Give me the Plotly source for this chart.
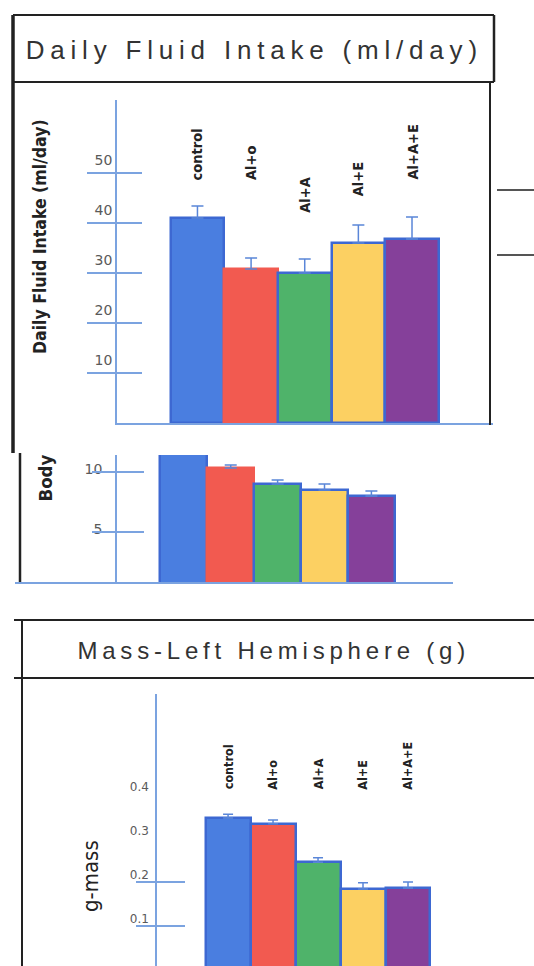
import plotly.graph_objects as go

# ---------------- data ----------------
categories = ["control", "Al+o", "Al+A", "Al+E", "Al+A+E"]

fluid_intake = [41.0, 30.8, 30.0, 36.0, 36.8]      # ml/day
fluid_err = [2.4, 2.2, 2.8, 3.6, 4.4]

body_weight = [12.4, 10.33, 9.0, 8.5, 8.0]        # partially visible panel
body_err = [0.3, 0.25, 0.33, 0.5, 0.42]

mass_left = [0.345, 0.332, 0.245, 0.184, 0.186]   # g
mass_err = [0.009, 0.009, 0.010, 0.014, 0.014]

fluid_ticks = [10, 20, 30, 40, 50]
body_ticks = [5, 10]
mass_ticks = [0.1, 0.2, 0.3, 0.4]
mass_tick_text = ["0.1", "0.2", "0.3", "0.4"]
mass_tick_lines = [0.1, 0.2]

# ---------------- styles ----------------
W, H = 534, 966
bar_colors = ["#4a7ee0", "#f25a50", "#4fb36a", "#fcd062", "#85409a"]
outline = "#3d68d2"
outline_no_red = [outline, "#f25a50", outline, outline, outline]
axis_blue = "#7ba3e0"
err_blue = "#5a86d8"
tick_grey = "#5a5a5a"
ink = "#222222"
NARROW = "Liberation Sans Narrow, DejaVu Sans Condensed, Arial Narrow, sans-serif"
SANS = "Liberation Sans, Arial, Helvetica, sans-serif"
WIDE = "DejaVu Sans, Verdana, sans-serif"


def px(x):
    return x / W


def py(y):
    return 1 - y / H


fig = go.Figure()


def add_bars(vals, errs, xa, ya, ew, line_colors):
    fig.add_trace(go.Bar(
        x=categories, y=vals, xaxis=xa, yaxis=ya, width=1,
        marker=dict(color=bar_colors, line=dict(color=line_colors, width=2.5)),
        error_y=dict(type="data", array=errs, arrayminus=[0] * len(errs),
                     symmetric=False, color=err_blue, thickness=1.5, width=ew),
        showlegend=False, hoverinfo="skip",
    ))


def add_anchor_trace(xa, ya, yval):
    # invisible point so that the overlaid tick axis is rendered
    fig.add_trace(go.Scatter(x=[categories[0]], y=[yval], xaxis=xa, yaxis=ya,
                             mode="markers", marker=dict(opacity=0, size=1),
                             showlegend=False, hoverinfo="skip"))


add_bars(fluid_intake, fluid_err, "x", "y", 6, outline_no_red)
add_bars(body_weight, body_err, "x2", "y2", 6, outline_no_red)
add_bars(mass_left, mass_err, "x3", "y3", 5, outline)

r1 = [0, 64.6]
r2 = [0.83, 11.42]
r3 = [0.009, 0.627]

for ya, xa, r in [("y4", "x", r1), ("y5", "x", r1), ("y6", "x2", r2),
                  ("y7", "x2", r2), ("y8", "x3", r3), ("y9", "x3", r3)]:
    add_anchor_trace(xa, ya, r[0])

common_x = dict(type="category", showgrid=False, zeroline=False,
                showticklabels=False, ticks="", fixedrange=True)
common_y = dict(showgrid=False, zeroline=False, fixedrange=True)


def overlay(base, vals, rng, side_ticks, length, anchor=None, position=None):
    d = dict(common_y, overlaying=base, range=rng, tickmode="array",
             tickvals=vals, ticks=side_ticks, ticklen=length,
             tickcolor=axis_blue, tickwidth=1.5, showticklabels=False,
             showline=False, side="left")
    if anchor == "free":
        d.update(anchor="free", position=position)
    else:
        d.update(anchor=anchor)
    return d


fig.update_layout(
    width=W, height=H, margin=dict(l=0, r=0, t=0, b=0),
    paper_bgcolor="white", plot_bgcolor="rgba(0,0,0,0)",
    bargap=0,
    # ---- panel 1 ----
    xaxis=dict(common_x, domain=[px(117), px(493)], anchor="y",
               range=[-1.5, 5.51], showline=True, linecolor=axis_blue, linewidth=1.5),
    yaxis=dict(common_y, domain=[py(423), py(100)], anchor="x", range=r1,
               tickmode="array", tickvals=fluid_ticks, ticks="",
               showline=True, linecolor=axis_blue, linewidth=1.5,
               ticklabelshift=-13, ticklabelstandoff=0,
               tickfont=dict(family=WIDE, size=14, color=tick_grey)),
    yaxis4=overlay("y", fluid_ticks, r1, "outside", 29, anchor="x"),
    yaxis5=overlay("y", fluid_ticks, r1, "inside", 25, anchor="x"),
    # ---- panel 2 ----
    xaxis2=dict(common_x, domain=[px(15), px(453)], anchor="y2",
                range=[-3.60, 5.74], showline=True, linecolor=axis_blue, linewidth=1.5),
    yaxis2=dict(common_y, domain=[py(582), py(455)], anchor="free", position=px(116),
                range=r2, tickmode="array", tickvals=body_ticks, ticks="",
                showline=True, linecolor=axis_blue, linewidth=1.5,
                ticklabelshift=-3, ticklabelstandoff=10,
                tickfont=dict(family=WIDE, size=14, color=tick_grey)),
    yaxis6=overlay("y2", body_ticks, r2, "outside", 24, anchor="free", position=px(116)),
    yaxis7=overlay("y2", body_ticks, r2, "inside", 27, anchor="free", position=px(116)),
    # ---- panel 3 ----
    xaxis3=dict(common_x, domain=[px(157), px(520)], anchor="y3",
                range=[-1.58, 6.49], showline=False),
    yaxis3=dict(common_y, domain=[0, py(694)], anchor="x3", range=r3,
                tickmode="array", tickvals=mass_ticks, ticktext=mass_tick_text, ticks="",
                showline=True, linecolor=axis_blue, linewidth=1.5,
                ticklabelshift=-7, ticklabelstandoff=4,
                tickfont=dict(family=WIDE, size=12, color=tick_grey)),
    yaxis8=overlay("y3", mass_tick_lines, r3, "outside", 20, anchor="x3"),
    yaxis9=overlay("y3", mass_tick_lines, r3, "inside", 28, anchor="x3"),
)

# ---------------- frame lines (paper coords) ----------------
def hline(x0, x1, y, color=ink, w=2):
    fig.add_shape(type="line", xref="paper", yref="paper",
                  x0=px(x0), x1=px(x1), y0=py(y), y1=py(y),
                  line=dict(color=color, width=w))


def vline(x, y0, y1, color=ink, w=2):
    fig.add_shape(type="line", xref="paper", yref="paper",
                  x0=px(x), x1=px(x), y0=py(y0), y1=py(y1),
                  line=dict(color=color, width=w))


hline(13, 494, 15)
hline(13, 494, 82)
vline(13, 15, 453, w=3.5)
vline(494, 15, 82, w=2.5)
vline(490, 82, 425, w=2)
hline(497, 534, 190, color="#555555", w=2)
hline(497, 534, 255, color="#555555", w=2)
vline(20, 453, 582, w=2.5)
hline(14, 534, 620)
hline(14, 534, 678)
vline(22, 620, 966, w=2)

# ---------------- texts ----------------
def note(text, x, y, size, family, color=ink, angle=0, weight="normal",
         xanchor="center", yanchor="middle", xref="paper", yref="paper"):
    fig.add_annotation(text=text, x=x, y=y, xref=xref, yref=yref,
                       showarrow=False, textangle=angle,
                       xanchor=xanchor, yanchor=yanchor,
                       font=dict(size=size, family=family, color=color, weight=weight))


# titles (index 0, 1)
note("Daily Fluid Intake (ml/day)", px(254), py(50), 26, SANS, color="#333333")
note("Mass-Left Hemisphere (g)", px(273), py(650), 24, SANS, color="#333333")

# axis titles
note("Daily Fluid Intake (ml/day)", px(40), py(237), 17.5, NARROW, angle=-90, weight="bold")
note("Body", px(45), py(453), 18.5, NARROW, angle=-90, weight="bold", yanchor="top")
note("g-mass", px(90), py(876), 22, NARROW, angle=-90)

# category labels above bars
label_y_fluid = [48.2, 48.2, 41.6, 45.0, 48.2]
for c, ly in zip(categories, label_y_fluid):
    note(c, c, ly, 14.5, NARROW, angle=-90, weight="bold", yanchor="bottom",
         xref="x", yref="y")
for c in categories:
    note(c, c, 0.405, 12.5, NARROW, angle=-90, weight="bold", yanchor="bottom",
         xref="x3", yref="y3")

post = """
document.body.style.margin = '0';
document.body.style.padding = '0';
document.body.style.overflow = 'hidden';
var gd = document.getElementById('{plot_id}');
function applyLS(){
  var sp = {'0': '5.8px', '1': '4.8px'};
  gd.querySelectorAll('g.annotation').forEach(function(g){
    var i = g.getAttribute('data-index');
    if (sp[i]) { g.querySelectorAll('text').forEach(function(t){ t.style.letterSpacing = sp[i]; }); }
  });
}
applyLS();
gd.on('plotly_afterplot', applyLS);
"""

fig.write_html("out.html", post_script=post, config={"displayModeBar": False})
